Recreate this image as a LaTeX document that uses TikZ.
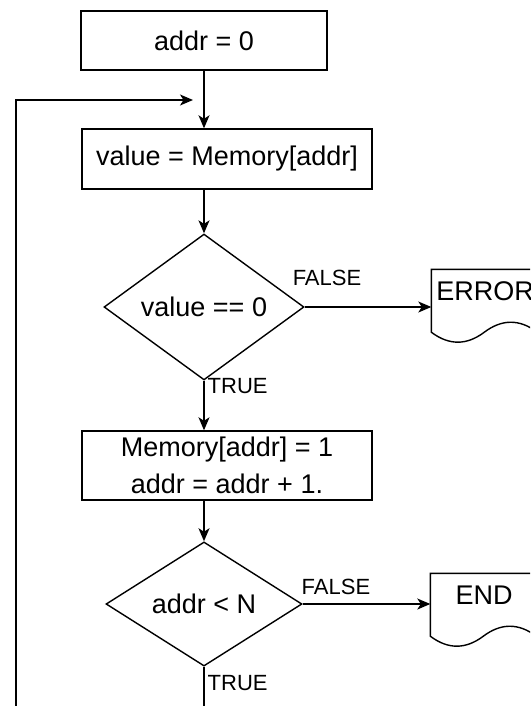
\documentclass[tikz,border=0pt]{standalone}
\usepackage{fontspec}
\setmainfont{Liberation Sans}
\usetikzlibrary{shapes.geometric,arrows.meta,calc}
\newcommand{\docshape}[1]{%
  \begin{scope}[shift={(#1.north west)}]
    \draw (0,0) -- (106,0) -- (106,62.9)
      .. controls (88.3,49.6) and (70.7,49.6) .. (53,62.9)
      .. controls (35.3,76.2) and (17.7,76.2) .. (0,62.9) -- cycle;
  \end{scope}}
\begin{document}
\begin{tikzpicture}[x=1pt,y=-1pt,line width=1.4pt,
  proc/.style={draw, rectangle, inner sep=0pt, align=center, font=\fontsize{27}{37}\selectfont},
  dec/.style={draw, diamond, inner sep=0pt, font=\fontsize{27}{32}\selectfont},
  docbox/.style={inner sep=0pt, minimum width=106pt, minimum height=42pt, font=\fontsize{27}{32}\selectfont},
  lbl/.style={inner sep=0pt, font=\fontsize{22}{26}\selectfont},
  arr/.style={-{Stealth[length=13pt,width=11pt,inset=3.5pt]}}]
\fill[white] (0,0) rectangle (530,706);
\useasboundingbox (0,0) rectangle (530,706);
\clip (0,0) rectangle (530,706);

\node[proc, minimum width=246pt, minimum height=59pt] (b1) at (204,40.5) {addr = 0};
\node[proc, minimum width=290pt, minimum height=60pt] (b2) at (227,159) {value = Memory[addr]};
\node[dec, minimum width=200pt, minimum height=118pt] (d1) at (204,307) {value == 0};
\node[proc, minimum width=290pt, minimum height=69pt] (b3) at (227,465.5) {Memory[addr] = 1\\addr = addr + 1.};
\node[dec, minimum width=196pt, minimum height=118pt] (d2) at (204,604) {addr \textless{} N};

\node[docbox] (err) at (485,291) {ERROR};
\node[docbox] (endd) at (484,595) {END};
\docshape{err}
\docshape{endd}

\coordinate (loopend) at (193,100);
\coordinate (loopstart) at (16,730);
\coordinate (bot) at (204,730);

\draw[arr] (b1.south -| d1.north) -- (b1.south |- b2.north -| d1.north);
\draw[arr] (loopstart) |- (loopend);
\draw[arr] (d1.north |- b2.south) -- (d1.north);
\draw[arr] (d1.east) -- (d1.east -| err.west);
\draw[arr] (d1.south) -- (d1.south |- b3.north);
\draw[arr] (d2.north |- b3.south) -- (d2.north);
\draw[arr] (d2.east) -- (d2.east -| endd.west);
\draw (d2.south) -- (bot);

\node[lbl] (f1) at (327,278) {FALSE};
\node[lbl, anchor=west] (t1) at (207,386) {TRUE};
\node[lbl, anchor=west] (f2) at (301,587) {FALSE};
\node[lbl, anchor=west] (t2) at (207,683) {TRUE};
\end{tikzpicture}
\end{document}
